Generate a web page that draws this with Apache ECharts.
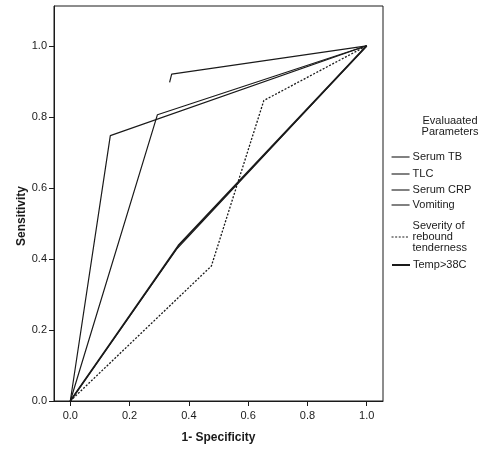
<!DOCTYPE html>
<html>
<head>
<meta charset="utf-8">
<script src="https://cdn.jsdelivr.net/npm/echarts@6/dist/echarts.min.js"></script>
<style>
html,body{margin:0;padding:0;background:#fff;}
#c{width:486px;height:449px;}
</style>
</head>
<body>
<div id="c"></div>
<script>
// ---- data ----
var seriesNames = ['Serum TB', 'TLC', 'Serum CRP', 'Vomiting', 'Severity of\nrebound\ntenderness', 'Temp>38C'];
var serumTB  = [[0.335, 0.897], [0.342, 0.920], [1, 1]];
var tlc      = [[0, 0], [0.135, 0.747], [1, 1]];
var serumCRP = [[0, 0], [0.294, 0.806], [1, 1]];
var vomiting = [[0, 0], [0.358, 0.427], [1, 1]];
var severity = [[0, 0], [0.476, 0.380], [0.653, 0.846], [1, 1]];
var temp     = [[0, 0], [0.365, 0.438], [1, 1]];
var xTicks = [0, 0.2, 0.4, 0.6, 0.8, 1.0];
var yTicks = [0, 0.2, 0.4, 0.6, 0.8, 1.0];
var legendTitle = 'Evaluaated\nParameters';
var xName = '1- Specificity';
var yName = 'Sensitivity';

var chart = echarts.init(document.getElementById('c'), null, {renderer: 'canvas'});
var FONT = 'Liberation Sans, Arial, sans-serif';
var INK = '#1a1a1a';

var datas = [serumTB, tlc, serumCRP, vomiting, severity, temp];
var styles = [
  {width: 1.2, type: 'solid'},
  {width: 1.2, type: 'solid'},
  {width: 1.2, type: 'solid'},
  {width: 1.2, type: 'solid'},
  {width: 1.3, type: [2, 1.6]},
  {width: 1.8, type: 'solid'}
];
var series = datas.map(function (d, i) {
  return {
    name: seriesNames[i],
    type: 'line',
    data: d,
    symbol: 'none',
    silent: true,
    animation: false,
    lineStyle: {color: INK, width: styles[i].width, type: styles[i].type},
    itemStyle: {color: INK}
  };
});

var legendCenters = [157, 174, 190, 205, 237, 265];
var legends = seriesNames.map(function (n, i) {
  var multi = n.indexOf('\n') >= 0;
  return {
    data: [n],
    orient: 'vertical',
    left: 391,
    top: multi ? legendCenters[i] - 16.5 : legendCenters[i] - 5.5,
    padding: 0,
    itemWidth: 18,
    itemHeight: 11,
    itemGap: 0,
    selectedMode: false,
    itemStyle: {opacity: 0},
    lineStyle: {width: i === 5 ? 2 : 1.1, type: styles[i].type, color: INK},
    textStyle: {fontFamily: FONT, fontSize: 11, color: INK, lineHeight: 11, padding: [0, 0, 0, -2]}
  };
});

chart.setOption({
  backgroundColor: '#fff',
  animation: false,
  grid: {left: 54, right: 103, top: 6, bottom: 47, show: true, borderColor: INK, borderWidth: 1, backgroundColor: 'transparent'},
  legend: legends,
  xAxis: {
    type: 'value', min: -0.055, max: 1.055,
    name: xName, nameLocation: 'middle', nameGap: 31,
    nameTextStyle: {fontFamily: FONT, fontSize: 12, fontWeight: 'bold', color: INK},
    axisLine: {show: true, onZero: false, lineStyle: {color: INK, width: 1}},
    axisTick: {show: true, length: 5, lineStyle: {color: INK}, customValues: xTicks},
    axisLabel: {customValues: xTicks, margin: 9, fontFamily: FONT, fontSize: 11, color: INK,
      formatter: function (v) { return v.toFixed(1); }},
    splitLine: {show: false}
  },
  yAxis: {
    type: 'value', min: 0, max: 1.112,
    axisLine: {show: true, onZero: false, lineStyle: {color: INK, width: 1}},
    axisTick: {show: true, length: 5, lineStyle: {color: INK}, customValues: yTicks},
    axisLabel: {customValues: yTicks, margin: 7, fontFamily: FONT, fontSize: 11, color: INK,
      formatter: function (v) { return v.toFixed(1); }},
    splitLine: {show: false}
  },
  graphic: [
    {type: 'text', x: 22, y: 216, rotation: Math.PI / 2,
      style: {text: yName, fontFamily: FONT, fontSize: 12, fontWeight: 'bold', fill: INK, align: 'center', verticalAlign: 'middle'}},
    {type: 'text', x: 450, y: 126.5,
      style: {text: legendTitle, fontFamily: FONT, fontSize: 11, lineHeight: 11, fill: INK, align: 'center', verticalAlign: 'middle'}}
  ],
  series: series
});
</script>
</body>
</html>
